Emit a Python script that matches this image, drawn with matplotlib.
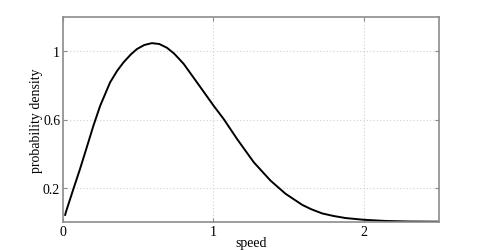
import matplotlib
matplotlib.use("Agg")
import matplotlib.pyplot as plt

speed = [0.014, 0.02, 0.069, 0.113, 0.158, 0.202, 0.247, 0.313, 0.36, 0.402, 0.45, 0.491, 0.54, 0.591,
         0.64, 0.691, 0.74, 0.802, 0.891, 1.002, 1.069, 1.158, 1.269, 1.38, 1.48, 1.591,
         1.65, 1.724, 1.8, 1.88, 2.0, 2.147, 2.3, 2.5]
density = [0.04, 0.060, 0.193, 0.310, 0.437, 0.563, 0.680, 0.817, 0.885, 0.934, 0.98, 1.012, 1.036, 1.047,
           1.042, 1.020, 0.985, 0.926, 0.817, 0.680, 0.602, 0.485, 0.349, 0.242, 0.165, 0.10,
           0.075, 0.050, 0.035, 0.023, 0.013, 0.006, 0.003, 0.002]
xticks = [0, 1, 2]
yticks = [0.2, 0.6, 1]
ytick_labels = ["0.2", "0.6", "1"]

plt.rcParams['font.family'] = ['Liberation Serif', 'DejaVu Serif']
fig = plt.figure(figsize=(4.85, 2.51), dpi=100)
ax = fig.add_axes([63/485, 1 - 223/251, (439-63)/485, (223-18)/251])
ax.plot(speed, density, color='black', lw=1.4, solid_capstyle='round', solid_joinstyle='round')
ax.set_xlim(0, 2.5)
ax.set_ylim(0, 1.2)
ax.set_xticks(xticks)
ax.set_xticklabels([str(t) for t in xticks])
ax.set_yticks(yticks)
ax.set_yticklabels(ytick_labels)
ax.grid(True, linestyle=(0, (1, 2)), color='#d0d0d0', lw=0.8)
for s in ax.spines.values():
    s.set_color('#8c8c8c')
    s.set_linewidth(1.2)
ax.tick_params(direction='in', length=3, width=0.8, color='#8c8c8c', labelsize=10,
               top=True, right=True)
ax.tick_params(axis='x', pad=2)
ax.tick_params(axis='y', pad=2)
ax.set_xlabel('speed', fontsize=10, labelpad=-1)
ax.set_ylabel('probability density', fontsize=10, labelpad=0)
fig.savefig('out.png', dpi=100)
